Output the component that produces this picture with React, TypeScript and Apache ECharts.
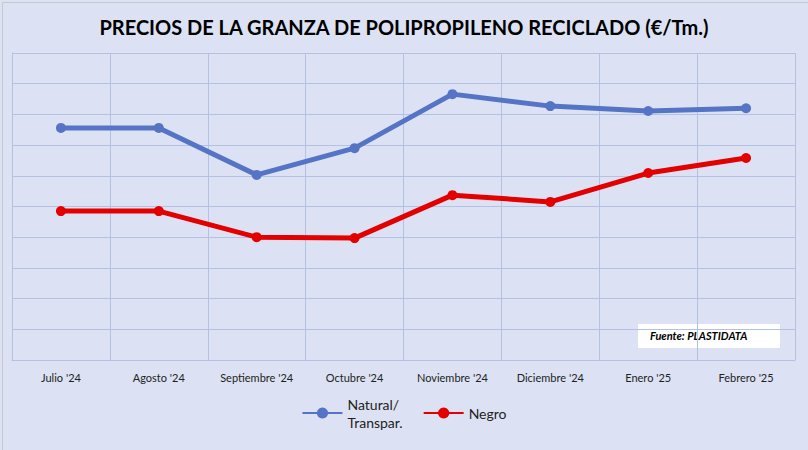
import React, { useEffect, useRef } from 'react';
import * as echarts from 'echarts';

const categories = ["Julio '24", "Agosto '24", "Septiembre '24", "Octubre '24", "Noviembre '24", "Diciembre '24", "Enero '25", "Febrero '25"];
const naturalValues = [7.56, 7.56, 6.03, 6.9, 8.66, 8.27, 8.11, 8.2];
const negroValues = [4.85, 4.85, 4.0, 3.97, 5.37, 5.15, 6.09, 6.58];

const App: React.FC = () => {
  const chartRef = useRef<HTMLDivElement>(null);

  useEffect(() => {
    if (!chartRef.current) return;
    const chart = echarts.init(chartRef.current, null, { renderer: 'svg' });
    const font = 'Lato, "Liberation Sans", sans-serif';
    chart.setOption({
      animation: false,
      backgroundColor: '#dce2f3',
      title: {
        text: 'PRECIOS DE LA GRANZA DE POLIPROPILENO RECICLADO (€/Tm.)',
        left: 'center',
        top: 12,
        textStyle: { fontFamily: font, fontSize: 20, fontWeight: 'bold', color: '#000' },
      },
      legend: {
        bottom: 14,
        left: 'center',
        itemWidth: 40,
        itemGap: 20,
        textStyle: { fontFamily: font, fontSize: 14, color: '#222', lineHeight: 18 },
        data: [
          { name: 'Natural/\nTranspar.' },
          { name: 'Negro' },
        ],
      },
      grid: { left: 12, right: 13, top: 53, bottom: 90 },
      xAxis: {
        type: 'category',
        data: categories,
        boundaryGap: true,
        axisLine: { lineStyle: { color: '#b3c1e4' } },
        axisTick: { show: false },
        splitLine: { show: true, lineStyle: { color: '#b3c1e4' } },
        axisLabel: { fontFamily: font, fontSize: 11, color: '#222', margin: 12, interval: 0 },
      },
      yAxis: {
        type: 'value',
        min: 0,
        max: 10,
        interval: 1,
        axisLabel: { show: false },
        axisLine: { show: true, lineStyle: { color: '#b3c1e4' } },
        splitLine: { lineStyle: { color: '#b3c1e4' } },
      },
      series: [
        {
          name: 'Natural/\nTranspar.',
          type: 'line',
          data: naturalValues,
          symbol: 'circle',
          symbolSize: 10,
          lineStyle: { width: 5, color: '#5574c6' },
          itemStyle: { color: '#5574c6' },
        },
        {
          name: 'Negro',
          type: 'line',
          data: negroValues,
          symbol: 'circle',
          symbolSize: 10,
          lineStyle: { width: 5, color: '#e30000' },
          itemStyle: { color: '#e30000' },
        },
      ],
      graphic: [
        {
          type: 'rect',
          left: 638,
          top: 324,
          shape: { width: 142, height: 24 },
          style: { fill: '#ffffff' },
        },
        {
          type: 'text',
          left: 650,
          top: 330,
          style: { text: 'Fuente: PLASTIDATA', font: `italic bold 11px ${font}`, fill: '#000' },
        },
        {
          type: 'rect',
          left: 0,
          top: 0,
          shape: { width: 807, height: 449 },
          style: { fill: 'none', stroke: '#c8c8c8', lineWidth: 1 },
        },
      ],
    });
    return () => chart.dispose();
  }, []);

  return <div ref={chartRef} style={{ position: 'absolute', left: 0, top: 0, width: 808, height: 450 }} />;
};

export default App;
